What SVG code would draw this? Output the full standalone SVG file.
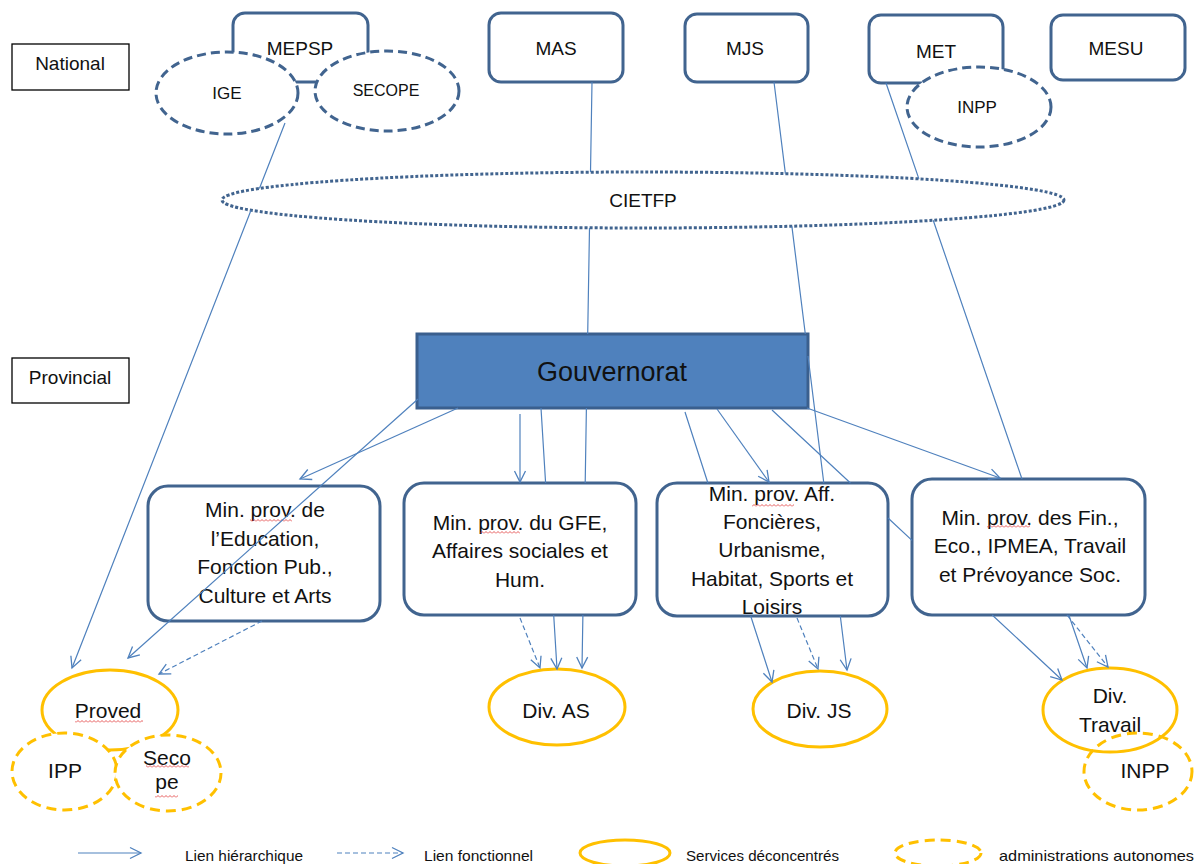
<svg xmlns="http://www.w3.org/2000/svg" width="1200" height="864" viewBox="0 0 1200 864">
<defs>
<marker id="arr" markerUnits="userSpaceOnUse" markerWidth="14" markerHeight="14" refX="12" refY="7" orient="auto"><path d="M1,1.5 L12,7 L1,12.5" fill="none" stroke="#4F81BD" stroke-width="1.3"/></marker>
<pattern id="sq" width="4" height="3" patternUnits="userSpaceOnUse"><path d="M0,2.5 L2,0.5 L4,2.5" fill="none" stroke="#e03030" stroke-width="0.8"/></pattern>
</defs>
<style>
.t{font-family:"Liberation Sans",Arial,sans-serif;fill:#111;text-anchor:middle}
.s19{font-size:19px}.s17{font-size:17px}.s16{font-size:16px}.s21{font-size:21px}.s15{font-size:15px}
.box{fill:#fff;stroke:#41648F;stroke-width:3}
.lvl{fill:#fff;stroke:#000;stroke-width:1.3}
.dash{fill:#fff;stroke:#41648F;stroke-width:3;stroke-dasharray:9 5}
.dot{fill:#fff;stroke:#41648F;stroke-width:3;stroke-dasharray:3 2}
.svc{fill:#fff;stroke:#FFC000;stroke-width:3}
.aut{fill:#fff;stroke:#FFC000;stroke-width:3;stroke-dasharray:10 6}
.nf{fill:none}
.c{fill:none;stroke:#4F81BD;stroke-width:1.2}
.f{stroke-dasharray:5 3}
</style>
<rect width="1200" height="864" fill="#fff"/>

<g id="level-national"><rect class="lvl" x="12" y="44" width="117" height="46"/><text class="t s19" x="70" y="70">National</text></g>
<g id="level-provincial"><rect class="lvl" x="12" y="358" width="117" height="45"/><text class="t s19" x="70" y="384">Provincial</text></g>

<g id="MEPSP">
<rect class="box" x="233" y="13" width="135" height="69" rx="12"/>
<ellipse class="dash" cx="227" cy="93" rx="71" ry="41"/>
<ellipse class="dash" cx="387" cy="91" rx="72" ry="40"/>
<text class="t s19" x="300" y="55">MEPSP</text>
<text class="t s17" x="227" y="99">IGE</text>
<text class="t s16" x="386" y="96">SECOPE</text>
</g>
<g id="MAS"><rect class="box" x="489" y="13" width="134" height="69" rx="12"/><text class="t s19" x="556" y="55">MAS</text></g>
<g id="MJS"><rect class="box" x="685" y="14" width="123" height="68" rx="12"/><text class="t s19" x="745" y="55">MJS</text></g>
<g id="MET">
<rect class="box" x="869" y="15" width="134" height="68" rx="12"/>
<text class="t s19" x="936" y="58">MET</text>
<ellipse class="dash" cx="979" cy="107" rx="72" ry="40"/>
<text class="t s17" x="977" y="113">INPP</text>
</g>
<g id="MESU"><rect class="box" x="1051" y="15" width="134" height="65" rx="12"/><text class="t s19" x="1116" y="55">MESU</text></g>

<g id="CIETFP"><ellipse class="dot" cx="643" cy="200" rx="421" ry="28"/><text class="t s19" x="643" y="207">CIETFP</text></g>

<g id="Gouvernorat"><rect x="417" y="334" width="391" height="74" fill="#4F81BD" stroke="#3A5F8E" stroke-width="3"/><text class="t" style="font-size:27px" x="612" y="381">Gouvernorat</text></g>

<g id="min-education">
<rect class="box" x="148" y="486" width="232" height="135" rx="20"/>
<text class="t s21" x="265" y="517">Min. prov. de</text>
<text class="t s21" x="265" y="546">l’Education,</text>
<text class="t s21" x="265" y="574">Fonction Pub.,</text>
<text class="t s21" x="265" y="603">Culture et Arts</text>
<rect x="250" y="519" width="42" height="3" fill="url(#sq)"/>
</g>
<g id="min-gfe">
<rect class="box" x="404" y="483" width="232" height="132" rx="20"/>
<text class="t s21" x="520" y="530">Min. prov. du GFE,</text>
<text class="t s21" x="520" y="558">Affaires sociales et</text>
<text class="t s21" x="520" y="587">Hum.</text>
<rect x="480" y="531" width="40" height="3" fill="url(#sq)"/>
</g>
<g id="min-foncieres">
<rect class="box" x="657" y="483" width="231" height="133" rx="20"/>
<text class="t s21" x="772" y="501">Min. prov. Aff.</text>
<text class="t s21" x="772" y="529">Foncières,</text>
<text class="t s21" x="772" y="557">Urbanisme,</text>
<text class="t s21" x="772" y="586">Habitat, Sports et</text>
<text class="t s21" x="772" y="614">Loisirs</text>
<rect x="752" y="504" width="42" height="3" fill="url(#sq)"/>
</g>
<g id="min-finances">
<rect class="box" x="912" y="479" width="233" height="136" rx="20"/>
<text class="t s21" x="1030" y="525">Min. prov. des Fin.,</text>
<text class="t s21" x="1030" y="553">Eco., IPMEA, Travail</text>
<text class="t s21" x="1030" y="582">et Prévoyance Soc.</text>
<rect x="987" y="525" width="43" height="3" fill="url(#sq)"/>
</g>

<g id="Proved">
<ellipse class="svc" cx="110" cy="710" rx="68" ry="40"/>
<text class="t s21" x="108" y="718">Proved</text>
<rect x="75" y="720" width="68" height="3" fill="url(#sq)"/>
</g>
<g id="IPP"><ellipse class="aut" cx="64.5" cy="771.5" rx="52.5" ry="38.5"/><text class="t s21" x="65" y="778">IPP</text></g>
<g id="Secope">
<ellipse class="aut" cx="168" cy="773" rx="53" ry="38"/>
<text class="t s21" x="167" y="765">Seco</text>
<text class="t s21" x="167" y="789">pe</text>
<rect x="146" y="765" width="43" height="3" fill="url(#sq)"/>
<rect x="155" y="795" width="23" height="3" fill="url(#sq)"/>
</g>
<g id="div-as"><ellipse class="svc" cx="557" cy="707" rx="68" ry="38"/><text class="t s21" x="556" y="718">Div. AS</text></g>
<g id="div-js"><ellipse class="svc" cx="820" cy="709" rx="67" ry="38"/><text class="t s21" x="819" y="718">Div. JS</text></g>
<g id="div-travail">
<ellipse class="svc nf" cx="1110" cy="710" rx="67" ry="42"/>
<text class="t s21" x="1110" y="703">Div.</text>
<text class="t s21" x="1110" y="732">Travail</text>
</g>
<g id="inpp-prov"><ellipse class="aut nf" cx="1138" cy="771.5" rx="54" ry="38.5"/><text class="t s21" x="1145" y="778">INPP</text></g>

<g id="connectors">
<path class="c" marker-end="url(#arr)" d="M285,123 L259.4,188.5 M251,210.3 L72,668"/>
<path class="c" marker-end="url(#arr)" d="M592,82 L590.5,172 M589.5,228 L587.7,334 M586.4,408 L585.2,483 M582.9,615 L582,668"/>
<path class="c" marker-end="url(#arr)" d="M774,82 L785.4,173.6 M791.9,226.4 L805.3,334 M808,356 L823.8,483 M840.3,616 L847,670"/>
<path class="c" marker-end="url(#arr)" d="M886,83 L918.9,178.9 M933.2,220.3 L1022,479 M1068.8,615 L1087,668"/>
<path class="c" marker-end="url(#arr)" d="M418,399 L128,658"/>
<path class="c" marker-end="url(#arr)" d="M458,408 L300,479"/>
<path class="c" marker-end="url(#arr)" d="M520,414 L520,482"/>
<path class="c" marker-end="url(#arr)" d="M541,408 L545.6,483 M553.7,615 L557,669"/>
<path class="c" marker-end="url(#arr)" d="M685,412 L707.9,483 M750.7,616 L772,682"/>
<path class="c" marker-end="url(#arr)" d="M717,409 L769,482"/>
<path class="c" marker-end="url(#arr)" d="M772,410 L850.4,483 M888,518 L912,540.4 M992.2,615 L1062,680"/>
<path class="c" marker-end="url(#arr)" d="M807,408 L1000,478"/>
<path class="c f" marker-end="url(#arr)" d="M262,621 L159,674"/>
<path class="c f" marker-end="url(#arr)" d="M520,618 L540,668"/>
<path class="c f" marker-end="url(#arr)" d="M797,618 L818,669"/>
<path class="c f" marker-end="url(#arr)" d="M1067,615 L1108,667"/>
</g>

<g id="legend">
<path class="c" marker-end="url(#arr)" d="M78,853 L141,853"/>
<text class="t s15" style="text-anchor:start" x="185" y="861" textLength="118" lengthAdjust="spacingAndGlyphs">Lien hiérarchique</text>
<path class="c f" marker-end="url(#arr)" d="M337,853 L403,853"/>
<text class="t s15" style="text-anchor:start" x="424" y="861" textLength="109" lengthAdjust="spacingAndGlyphs">Lien fonctionnel</text>
<ellipse class="svc" cx="625" cy="853" rx="45" ry="13"/>
<text class="t s15" style="text-anchor:start" x="686" y="861" textLength="153" lengthAdjust="spacingAndGlyphs">Services déconcentrés</text>
<ellipse class="aut" cx="938" cy="853" rx="43" ry="13"/>
<text class="t s15" style="text-anchor:start" x="999" y="861" textLength="195" lengthAdjust="spacingAndGlyphs">administrations autonomes</text>
</g>
</svg>
